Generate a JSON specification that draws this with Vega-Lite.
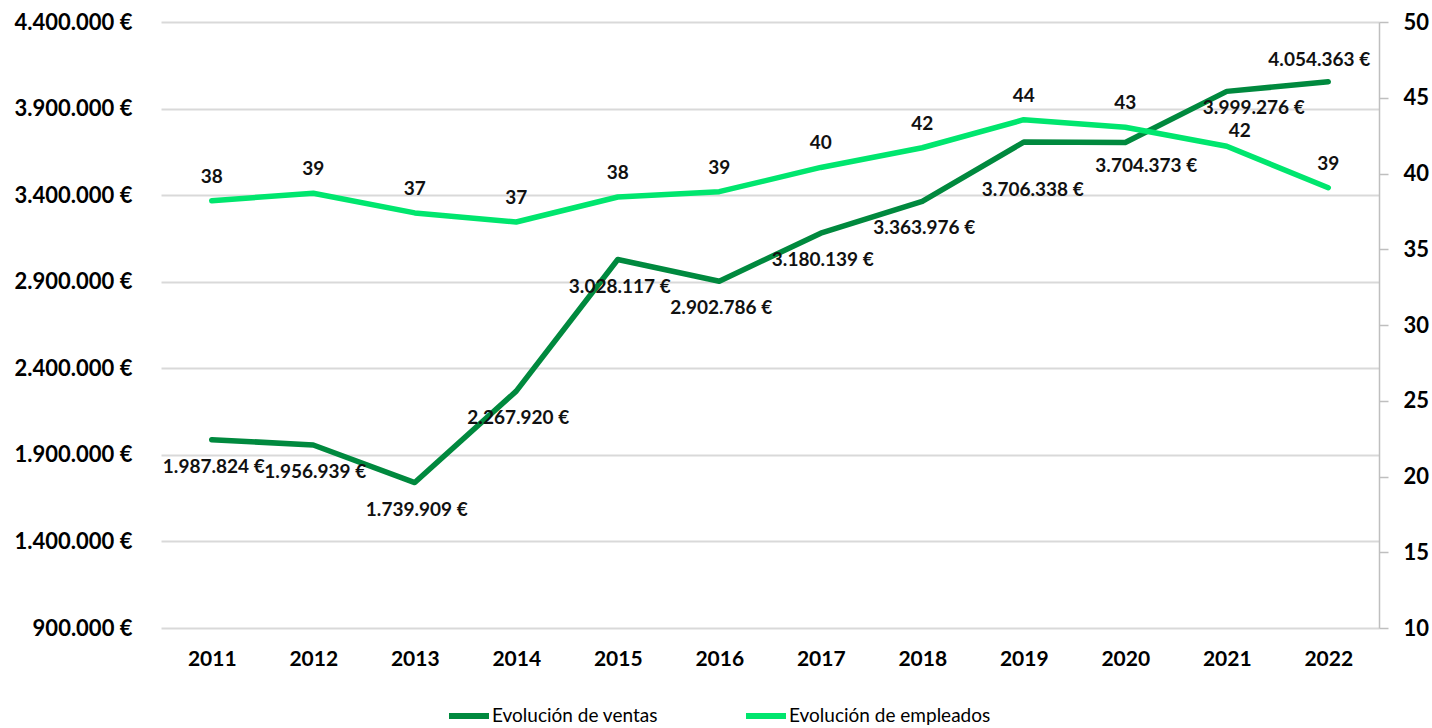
{
  "$schema": "https://vega.github.io/schema/vega-lite/v6.json",
  "width": 1218,
  "height": 606,
  "autosize": {"type": "none"},
  "padding": {"left": 161, "top": 22, "right": 53, "bottom": 100},
  "background": "white",
  "config": {
    "locale": {"number": {"decimal": ",", "thousands": ".", "grouping": [3], "currency": ["", " €"]}},
    "view": {"stroke": null},
    "font": "Lato",
    "axis": {"labelFont": "Lato", "labelFontWeight": "bold", "labelFontSize": 21, "labelColor": "#000000", "title": null},
    "text": {"font": "Lato", "fontWeight": "bold", "fontSize": 19, "color": "#111111", "baseline": "middle"}
  },
  "data": {
    "values": [
      {"year": 2011, "ventas": 1987824, "empleados": 38.2},
      {"year": 2012, "ventas": 1956939, "empleados": 38.7},
      {"year": 2013, "ventas": 1739909, "empleados": 37.4},
      {"year": 2014, "ventas": 2267920, "empleados": 36.8},
      {"year": 2015, "ventas": 3028117, "empleados": 38.45},
      {"year": 2016, "ventas": 2902786, "empleados": 38.8},
      {"year": 2017, "ventas": 3180139, "empleados": 40.4},
      {"year": 2018, "ventas": 3363976, "empleados": 41.7},
      {"year": 2019, "ventas": 3706338, "empleados": 43.55},
      {"year": 2020, "ventas": 3704373, "empleados": 43.05},
      {"year": 2021, "ventas": 3999276, "empleados": 41.8},
      {"year": 2022, "ventas": 4054363, "empleados": 39.06}
    ]
  },
  "encoding": {
    "x": {
      "field": "year", "type": "ordinal",
      "scale": {"type": "point", "padding": 0.5},
      "axis": {"labelAngle": 0, "domain": false, "ticks": false, "tickSize": 0, "labelPadding": 20, "title": null}
    }
  },
  "layer": [
    {
      "encoding": {
        "y": {
          "field": "ventas", "type": "quantitative",
          "scale": {"domain": [900000, 4400000], "nice": false, "zero": false},
          "axis": {
            "orient": "left",
            "values": [900000, 1400000, 1900000, 2400000, 2900000, 3400000, 3900000, 4400000],
            "format": "$,.0f",
            "labelFontSize": 22,
            "grid": true, "gridColor": "#d9d9d9", "gridWidth": 2,
            "domain": false, "ticks": false, "tickSize": 0, "labelPadding": 29, "title": null
          }
        }
      },
      "layer": [
        {
          "mark": {"type": "line", "strokeWidth": 5.5, "strokeCap": "round", "strokeJoin": "round"},
          "encoding": {
            "color": {
              "datum": "Evolución de ventas", "type": "nominal",
              "scale": {"domain": ["Evolución de ventas", "Evolución de empleados"], "range": ["#00893E", "#00E66E"]},
              "legend": {
                "orient": "none", "legendX": 285, "legendY": 671, "direction": "horizontal",
                "symbolType": "stroke", "symbolSize": 1600, "symbolStrokeWidth": 6,
                "labelFont": "Lato", "labelFontSize": 19, "labelColor": "#000000", "labelOffset": 0,
                "labelLimit": 0, "columnPadding": 76, "title": null, "padding": 0
              }
            }
          }
        },
        {
          "transform": [{"filter": "datum.year <= 2018"}],
          "mark": {"type": "text", "dy": 27, "dx": 2},
          "encoding": {"text": {"field": "ventas", "type": "quantitative", "format": "$,.0f"}}
        },
        {
          "transform": [{"filter": "datum.year == 2019"}],
          "mark": {"type": "text", "dy": 48, "dx": 9},
          "encoding": {"text": {"field": "ventas", "type": "quantitative", "format": "$,.0f"}}
        },
        {
          "transform": [{"filter": "datum.year == 2020"}],
          "mark": {"type": "text", "dy": 24, "dx": 21},
          "encoding": {"text": {"field": "ventas", "type": "quantitative", "format": "$,.0f"}}
        },
        {
          "transform": [{"filter": "datum.year == 2021"}],
          "mark": {"type": "text", "dy": 17, "dx": 27},
          "encoding": {"text": {"field": "ventas", "type": "quantitative", "format": "$,.0f"}}
        },
        {
          "transform": [{"filter": "datum.year == 2022"}],
          "mark": {"type": "text", "dy": -22, "dx": -9},
          "encoding": {"text": {"field": "ventas", "type": "quantitative", "format": "$,.0f"}}
        }
      ]
    },
    {
      "encoding": {
        "y": {
          "field": "empleados", "type": "quantitative",
          "scale": {"domain": [10, 50], "nice": false, "zero": false},
          "axis": {
            "orient": "right",
            "values": [10, 15, 20, 25, 30, 35, 40, 45, 50],
            "labelFontSize": 22,
            "grid": false,
            "domain": true, "domainColor": "#bfbfbf", "domainWidth": 1.5,
            "ticks": true, "tickColor": "#bfbfbf", "tickWidth": 1.5, "tickSize": 9,
            "labelPadding": 15, "title": null
          }
        }
      },
      "layer": [
        {
          "mark": {"type": "line", "strokeWidth": 5.5, "strokeCap": "round", "strokeJoin": "round"},
          "encoding": {"color": {"datum": "Evolución de empleados", "type": "nominal"}}
        },
        {
          "transform": [{"filter": "datum.year != 2021"}],
          "mark": {"type": "text", "dy": -24, "dx": 0},
          "encoding": {"text": {"field": "empleados", "type": "quantitative", "format": ".0f"}}
        },
        {
          "transform": [{"filter": "datum.year == 2021"}],
          "mark": {"type": "text", "dy": -15, "dx": 13},
          "encoding": {"text": {"field": "empleados", "type": "quantitative", "format": ".0f"}}
        }
      ]
    }
  ],
  "resolve": {"scale": {"y": "independent"}}
}
